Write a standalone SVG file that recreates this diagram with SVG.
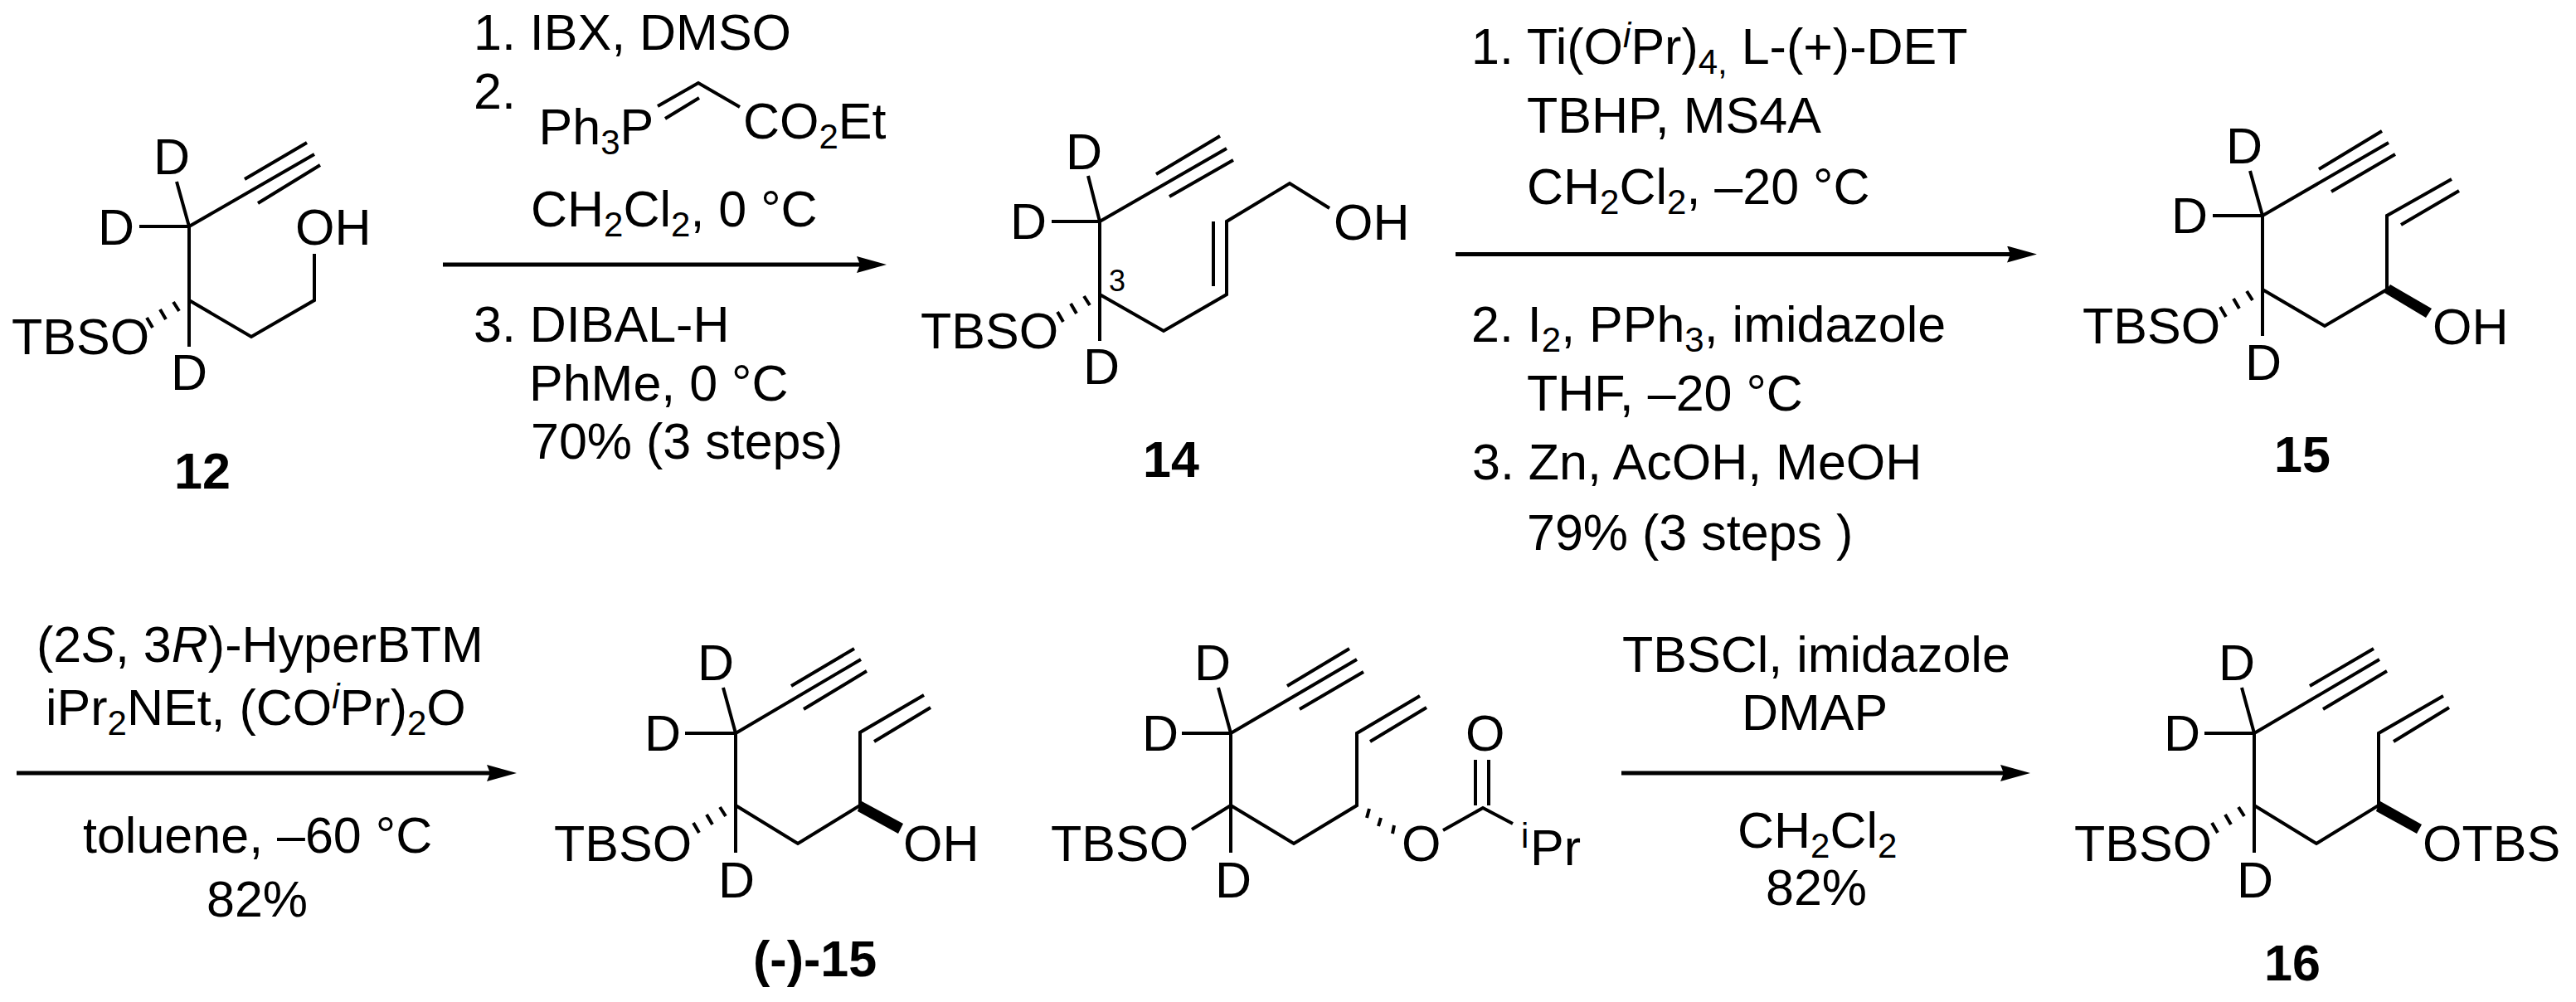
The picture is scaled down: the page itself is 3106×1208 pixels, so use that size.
<svg xmlns="http://www.w3.org/2000/svg" xmlns:xlink="http://www.w3.org/1999/xlink" width="3106" height="1208" viewBox="0 0 3106 1208">
<style>
text{font-family:"Liberation Sans",Arial,sans-serif;font-size:61px;fill:#000}
.b{font-weight:700}
.s{font-size:42px}
.i{font-style:italic}
.n{font-size:36px}
.l{fill:none;stroke:#000;stroke-width:4;stroke-linecap:butt;stroke-linejoin:miter}
.a{fill:none;stroke:#000;stroke-width:5}
.w{fill:#000;stroke:none}
</style>
<defs>
<marker id="head" markerUnits="userSpaceOnUse" markerWidth="40" markerHeight="24" refX="20" refY="10" orient="auto" viewBox="0 0 40 24"><path d="M36 10 L0 0 L4 10 L0 20 Z" fill="#000"/></marker>
<path id="hash" class="l" d="M-19 2L-12 13M-35 11L-28 23M-51 21L-44 33"/>
</defs>
<g id="connectors">
<line class="a" x1="534" y1="319" x2="1053" y2="319" marker-end="url(#head)"/>
<line class="a" x1="1755" y1="306.500" x2="2440" y2="306.500" marker-end="url(#head)"/>
<line class="a" x1="20" y1="932" x2="607" y2="932" marker-end="url(#head)"/>
<line class="a" x1="1955" y1="932" x2="2432" y2="932" marker-end="url(#head)"/>
</g>
<g id="mol-12">
<path class="l" d="M213 219L228 273M168 273H228M228 273L379 186M295 216L370 172M311 245L386 199M228 273V418M228 362L303 406L379 362V306"/>
<use xlink:href="#hash" href="#hash" transform="translate(228,362)"/>
<text x="185" y="210">D</text><text x="118" y="295">D</text><text x="206" y="470">D</text>
<text x="14" y="427">TBSO</text><text x="356" y="295">OH</text>
<text class="b" x="210" y="589">12</text>
</g>
<g id="reagents-1">
<text x="571" y="60">1. IBX, DMSO</text>
<text x="571" y="131">2.</text>
<text x="649.500" y="174">Ph<tspan class="s" dy="12">3</tspan><tspan dy="-12">P</tspan></text>
<path class="l" d="M793 128L842 100L892 129M802 143L843 118"/>
<text x="896" y="167">CO<tspan class="s" dy="12">2</tspan><tspan dy="-12">Et</tspan></text>
<text x="640" y="273">CH<tspan class="s" dy="12">2</tspan><tspan dy="-12">Cl</tspan><tspan class="s" dy="12">2</tspan><tspan dy="-12">, 0 °C</tspan></text>
<text x="571" y="412">3. DIBAL-H</text>
<text x="638" y="483">PhMe, 0 °C</text>
<text x="640" y="553">70% (3 steps)</text>
</g>
<g id="mol-14">
<path class="l" d="M1312 212L1326 267M1268 267H1326M1326 267L1479 179M1394 210L1471 164M1410 237L1487 193M1326 267V411M1326 355L1403 399L1479 355V267L1555 221L1603 251M1463 267V345"/>
<use xlink:href="#hash" href="#hash" transform="translate(1326,355)"/>
<text x="1285" y="204">D</text><text x="1218" y="288">D</text><text x="1306" y="463">D</text>
<text x="1110" y="420">TBSO</text><text x="1608" y="289">OH</text>
<text class="n" x="1337" y="351">3</text>
<text class="b" x="1378" y="575">14</text>
</g>
<g id="reagents-2">
<text x="1774" y="77">1. Ti(O<tspan class="s i" dy="-20">i</tspan><tspan dy="20">Pr)</tspan><tspan class="s" dy="12">4,</tspan><tspan dy="-12"> L-(+)-DET</tspan></text>
<text x="1841" y="160">TBHP, MS4A</text>
<text x="1841" y="246">CH<tspan class="s" dy="12">2</tspan><tspan dy="-12">Cl</tspan><tspan class="s" dy="12">2</tspan><tspan dy="-12">, –20 °C</tspan></text>
<text x="1774" y="412">2. I<tspan class="s" dy="12">2</tspan><tspan dy="-12">, PPh</tspan><tspan class="s" dy="12">3</tspan><tspan dy="-12">, imidazole</tspan></text>
<text x="1841" y="495">THF, –20 °C</text>
<text x="1775" y="578">3. Zn, AcOH, MeOH</text>
<text x="1841" y="663">79% (3 steps )</text>
</g>
<g id="mol-15">
<path class="l" d="M2713 206L2728 260M2668 260H2728M2728 260L2880 172M2796 204L2872 158M2811 231L2888 186M2728 260V405M2728 349L2803 393L2878 349V260L2956 216M2895 271L2965 230"/>
<path class="w" d="M2877 350L2882 343L2932 372L2925 383L2875 353Z"/>
<use xlink:href="#hash" href="#hash" transform="translate(2728,349)"/>
<text x="2684" y="197">D</text><text x="2618" y="281">D</text><text x="2707" y="458">D</text>
<text x="2511" y="414">TBSO</text><text x="2933" y="415">OH</text>
<text class="b" x="2742" y="569">15</text>
</g>
<g id="reagents-3">
<text x="44" y="798">(2<tspan class="i">S</tspan>, 3<tspan class="i">R</tspan>)-HyperBTM</text>
<text x="55" y="874">iPr<tspan class="s" dy="12">2</tspan><tspan dy="-12">NEt, (CO</tspan><tspan class="s i" dy="-20">i</tspan><tspan dy="20">Pr)</tspan><tspan class="s" dy="12">2</tspan><tspan dy="-12">O</tspan></text>
<text x="100" y="1028">toluene, –60 °C</text>
<text x="249" y="1105">82%</text>
</g>
<g id="mol-minus-15">
<path class="l" d="M872 829L887 884M826 884H887M887 884L1038 795M954 827L1030 782M969 855L1045 809M887 884V1028M887 971L962 1017L1037 971V883L1114 838M1054 894L1122 853"/>
<path class="w" d="M1036 972L1039 966L1089 993L1083 1005L1034 978Z"/>
<use xlink:href="#hash" href="#hash" transform="translate(887,971)"/>
<text x="841" y="820">D</text><text x="777" y="905">D</text><text x="866" y="1082">D</text>
<text x="668" y="1038">TBSO</text><text x="1089" y="1038">OH</text>
<text class="b" x="908" y="1177">(-)-15</text>
</g>
<g id="mol-ester">
<path class="l" d="M1469 829L1484 884M1425 884H1484M1484 884L1636 795M1552 827L1627 782M1567 855L1644 810M1484 884V1028M1484 971L1437 1000M1484 971L1560 1017L1636 971V884L1712 839M1652 894L1720 853M1740 1001L1788 974L1824 993M1779 916V971M1795 916V971M1651 975L1648 986M1665 986L1662 996M1681 995L1679 1005"/>
<text x="1440" y="820">D</text><text x="1377" y="905">D</text><text x="1465" y="1082">D</text>
<text x="1267" y="1038">TBSO</text><text x="1690" y="1038">O</text><text x="1767" y="905">O</text>
<text class="s" x="1834" y="1022">i</text><text x="1845" y="1043">Pr</text>
</g>
<g id="reagents-4">
<text x="1956" y="810">TBSCl, imidazole</text>
<text x="2100" y="880">DMAP</text>
<text x="2095" y="1022">CH<tspan class="s" dy="12">2</tspan><tspan dy="-12">Cl</tspan><tspan class="s" dy="12">2</tspan></text>
<text x="2129" y="1091">82%</text>
</g>
<g id="mol-16">
<path class="l" d="M2703 829L2718 884M2658 884H2718M2718 884L2869 795M2785 827L2862 782M2801 855L2878 809M2718 884V1028M2718 971L2793 1017L2868 971V884L2946 839M2886 894L2953 853"/>
<path class="w" d="M2867 972L2870 966L2920 994L2914 1005L2865 978Z"/>
<use xlink:href="#hash" href="#hash" transform="translate(2718,971)"/>
<text x="2675" y="820">D</text><text x="2609" y="905">D</text><text x="2697" y="1082">D</text>
<text x="2501" y="1038">TBSO</text><text x="2921" y="1038">OTBS</text>
<text class="b" x="2730" y="1182">16</text>
</g>
</svg>
